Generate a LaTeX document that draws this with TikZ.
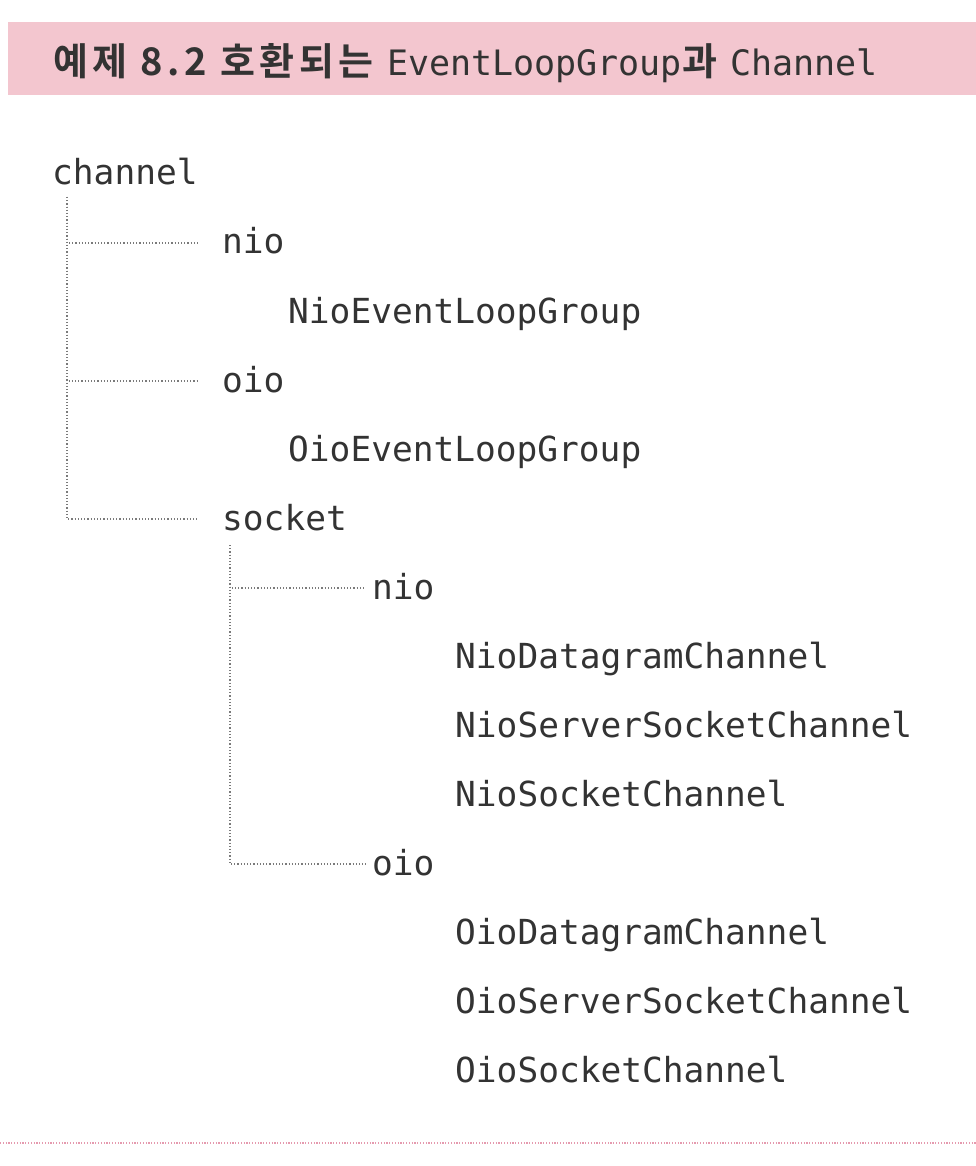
\documentclass[tikz,border=0pt]{standalone}
\usepackage{fontspec}
\newfontfamily\krfont{Noto Sans CJK KR}[BoldFont={* Bold},LetterSpace=12]
\newfontfamily\monofont{DejaVu Sans Mono}
\definecolor{bandpink}{HTML}{F3C6CF}
\definecolor{txt}{HTML}{333333}
\definecolor{dotgray}{HTML}{7A7A7A}
\definecolor{rulepink}{HTML}{E59AAE}
\begin{document}
\begin{tikzpicture}[x=1pt,y=-1pt,
  item/.style={anchor=base west,inner sep=0pt,text=txt,font=\monofont\fontsize{34.5}{40}\selectfont},
  branch/.style={draw=dotgray,line width=1.2pt,dash pattern=on 1.2pt off 2pt}]
\useasboundingbox (0,0) rectangle (976,1166);
\fill[bandpink] (8,22) rectangle (976,95);
\node[anchor=base west,inner sep=0pt,text=txt] (title) at (53,76)
  {\krfont\bfseries\fontsize{38}{44}\selectfont 예제 8.2 호환되는 {\monofont\mdseries\fontsize{35}{40}\selectfont EventLoopGroup}과 {\monofont\mdseries\fontsize{35}{40}\selectfont Channel}};
\node[item] (channel) at (52,185) {channel};
\node[item] (nio1) at (222,254) {nio};
\node[item] (nelg) at (288,323) {NioEventLoopGroup};
\node[item] (oio1) at (222,392) {oio};
\node[item] (oelg) at (288,461) {OioEventLoopGroup};
\node[item] (socket) at (222,530) {socket};
\node[item] (nio2) at (372,599) {nio};
\node[item] (ndc) at (455,668) {NioDatagramChannel};
\node[item] (nssc) at (455,737) {NioServerSocketChannel};
\node[item] (nsc) at (455,806) {NioSocketChannel};
\node[item] (oio2) at (372,875) {oio};
\node[item] (odc) at (455,944) {OioDatagramChannel};
\node[item] (ossc) at (455,1013) {OioServerSocketChannel};
\node[item] (osc) at (455,1082) {OioSocketChannel};
% first level
\coordinate (t1) at ([xshift=15pt,yshift=-12pt]channel.base west);
\coordinate (e1) at ([xshift=-24pt,yshift=11pt]nio1.base west);
\coordinate (e2) at ([xshift=-24pt,yshift=11pt]oio1.base west);
\coordinate (e3) at ([xshift=-24pt,yshift=11pt]socket.base west);
\draw[branch] (t1) |- (e3);
\draw[branch] (t1) |- (e1);
\draw[branch] (t1) |- (e2);
% second level
\coordinate (t2) at ([xshift=8pt,yshift=-15pt]socket.base west);
\coordinate (f1) at ([xshift=-6pt,yshift=11pt]nio2.base west);
\coordinate (f2) at ([xshift=-6pt,yshift=11pt]oio2.base west);
\draw[branch] (t2) |- (f2);
\draw[branch] (t2) |- (f1);
% bottom rule
\coordinate (r1) at (0,1143);
\coordinate (r2) at (976,1143);
\draw[draw=rulepink,line width=1.2pt,dash pattern=on 1.2pt off 1.6pt] (r1) -- (r2);
\end{tikzpicture}
\end{document}
